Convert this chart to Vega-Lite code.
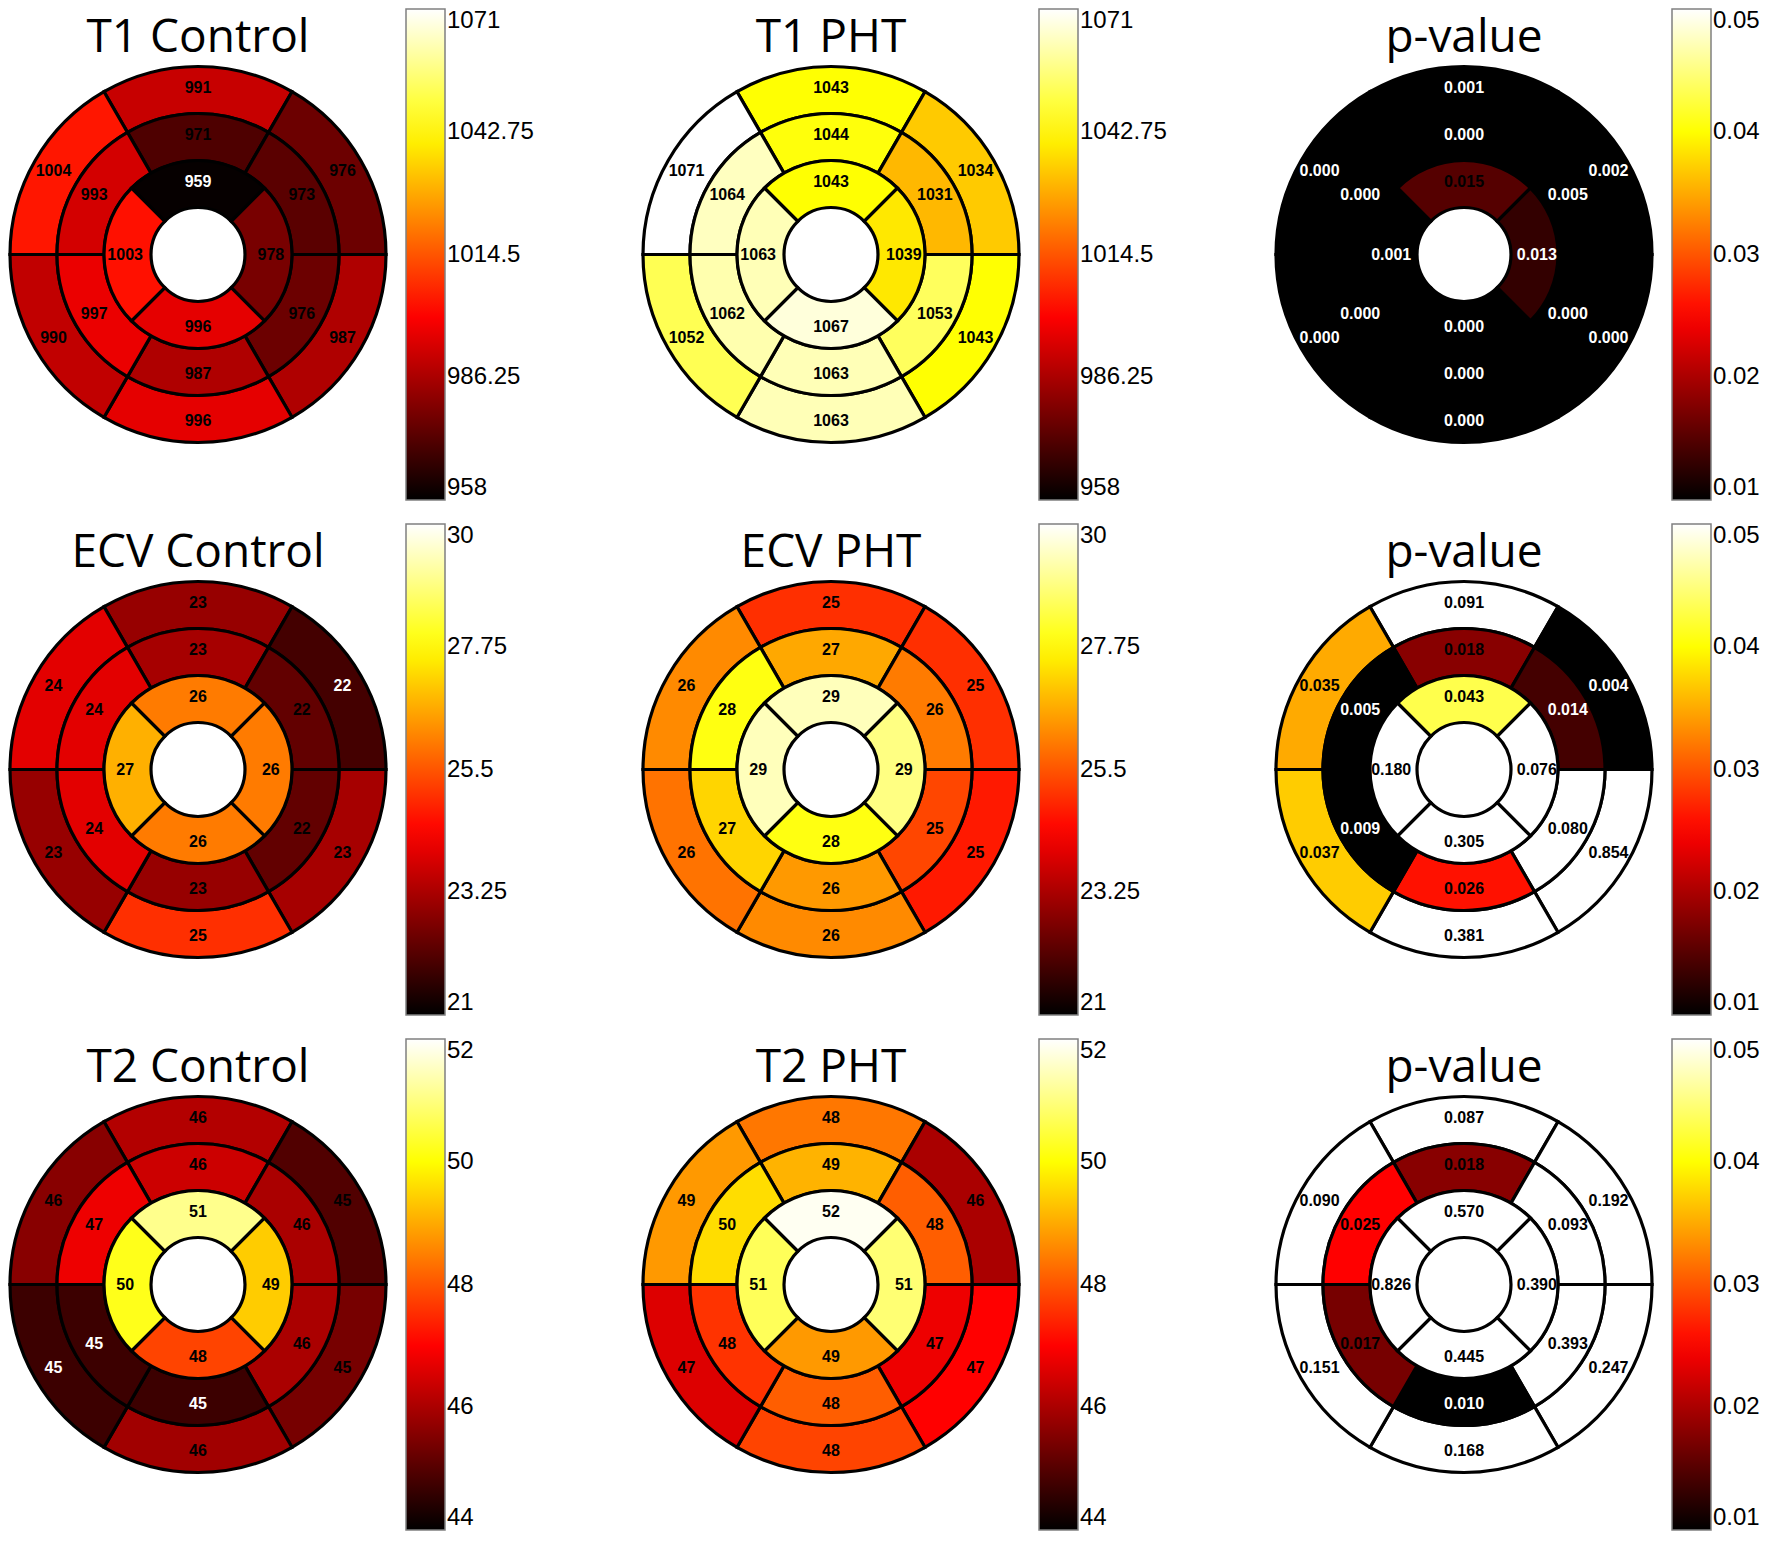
{
  "$schema": "https://vega.github.io/schema/vega-lite/v6.json",
  "padding": {"left": 3, "top": 9, "right": 0, "bottom": 0},
  "background": "white",
  "columns": 3,
  "bounds": "flush",
  "spacing": {"row": 24, "column": 243},
  "data": {"values": [
    {"p": "T1 Control", "ring": "outer", "seg": 0, "v": 991},
    {"p": "T1 Control", "ring": "outer", "seg": 1, "v": 976},
    {"p": "T1 Control", "ring": "outer", "seg": 2, "v": 987},
    {"p": "T1 Control", "ring": "outer", "seg": 3, "v": 996},
    {"p": "T1 Control", "ring": "outer", "seg": 4, "v": 990},
    {"p": "T1 Control", "ring": "outer", "seg": 5, "v": 1004},
    {"p": "T1 Control", "ring": "mid", "seg": 0, "v": 971},
    {"p": "T1 Control", "ring": "mid", "seg": 1, "v": 973},
    {"p": "T1 Control", "ring": "mid", "seg": 2, "v": 976},
    {"p": "T1 Control", "ring": "mid", "seg": 3, "v": 987},
    {"p": "T1 Control", "ring": "mid", "seg": 4, "v": 997},
    {"p": "T1 Control", "ring": "mid", "seg": 5, "v": 993},
    {"p": "T1 Control", "ring": "inner", "seg": 0, "v": 959},
    {"p": "T1 Control", "ring": "inner", "seg": 1, "v": 978},
    {"p": "T1 Control", "ring": "inner", "seg": 2, "v": 996},
    {"p": "T1 Control", "ring": "inner", "seg": 3, "v": 1003},

    {"p": "T1 PHT", "ring": "outer", "seg": 0, "v": 1043},
    {"p": "T1 PHT", "ring": "outer", "seg": 1, "v": 1034},
    {"p": "T1 PHT", "ring": "outer", "seg": 2, "v": 1043},
    {"p": "T1 PHT", "ring": "outer", "seg": 3, "v": 1063},
    {"p": "T1 PHT", "ring": "outer", "seg": 4, "v": 1052},
    {"p": "T1 PHT", "ring": "outer", "seg": 5, "v": 1071},
    {"p": "T1 PHT", "ring": "mid", "seg": 0, "v": 1044},
    {"p": "T1 PHT", "ring": "mid", "seg": 1, "v": 1031},
    {"p": "T1 PHT", "ring": "mid", "seg": 2, "v": 1053},
    {"p": "T1 PHT", "ring": "mid", "seg": 3, "v": 1063},
    {"p": "T1 PHT", "ring": "mid", "seg": 4, "v": 1062},
    {"p": "T1 PHT", "ring": "mid", "seg": 5, "v": 1064},
    {"p": "T1 PHT", "ring": "inner", "seg": 0, "v": 1043},
    {"p": "T1 PHT", "ring": "inner", "seg": 1, "v": 1039},
    {"p": "T1 PHT", "ring": "inner", "seg": 2, "v": 1067},
    {"p": "T1 PHT", "ring": "inner", "seg": 3, "v": 1063},

    {"p": "T1 p", "ring": "outer", "seg": 0, "v": 0.001},
    {"p": "T1 p", "ring": "outer", "seg": 1, "v": 0.002},
    {"p": "T1 p", "ring": "outer", "seg": 2, "v": 0.0001},
    {"p": "T1 p", "ring": "outer", "seg": 3, "v": 0.0001},
    {"p": "T1 p", "ring": "outer", "seg": 4, "v": 0.0001},
    {"p": "T1 p", "ring": "outer", "seg": 5, "v": 0.0001},
    {"p": "T1 p", "ring": "mid", "seg": 0, "v": 0.0001},
    {"p": "T1 p", "ring": "mid", "seg": 1, "v": 0.005},
    {"p": "T1 p", "ring": "mid", "seg": 2, "v": 0.0001},
    {"p": "T1 p", "ring": "mid", "seg": 3, "v": 0.0001},
    {"p": "T1 p", "ring": "mid", "seg": 4, "v": 0.0001},
    {"p": "T1 p", "ring": "mid", "seg": 5, "v": 0.0001},
    {"p": "T1 p", "ring": "inner", "seg": 0, "v": 0.015},
    {"p": "T1 p", "ring": "inner", "seg": 1, "v": 0.013},
    {"p": "T1 p", "ring": "inner", "seg": 2, "v": 0.0001},
    {"p": "T1 p", "ring": "inner", "seg": 3, "v": 0.001},

    {"p": "ECV Control", "ring": "outer", "seg": 0, "v": 23},
    {"p": "ECV Control", "ring": "outer", "seg": 1, "v": 21.9},
    {"p": "ECV Control", "ring": "outer", "seg": 2, "v": 23.2},
    {"p": "ECV Control", "ring": "outer", "seg": 3, "v": 25},
    {"p": "ECV Control", "ring": "outer", "seg": 4, "v": 23},
    {"p": "ECV Control", "ring": "outer", "seg": 5, "v": 24},
    {"p": "ECV Control", "ring": "mid", "seg": 0, "v": 23.2},
    {"p": "ECV Control", "ring": "mid", "seg": 1, "v": 22.3},
    {"p": "ECV Control", "ring": "mid", "seg": 2, "v": 22.3},
    {"p": "ECV Control", "ring": "mid", "seg": 3, "v": 23},
    {"p": "ECV Control", "ring": "mid", "seg": 4, "v": 24},
    {"p": "ECV Control", "ring": "mid", "seg": 5, "v": 24},
    {"p": "ECV Control", "ring": "inner", "seg": 0, "v": 26},
    {"p": "ECV Control", "ring": "inner", "seg": 1, "v": 26},
    {"p": "ECV Control", "ring": "inner", "seg": 2, "v": 26},
    {"p": "ECV Control", "ring": "inner", "seg": 3, "v": 26.7},

    {"p": "ECV PHT", "ring": "outer", "seg": 0, "v": 25},
    {"p": "ECV PHT", "ring": "outer", "seg": 1, "v": 25},
    {"p": "ECV PHT", "ring": "outer", "seg": 2, "v": 24.7},
    {"p": "ECV PHT", "ring": "outer", "seg": 3, "v": 26.2},
    {"p": "ECV PHT", "ring": "outer", "seg": 4, "v": 25.9},
    {"p": "ECV PHT", "ring": "outer", "seg": 5, "v": 26.2},
    {"p": "ECV PHT", "ring": "mid", "seg": 0, "v": 26.6},
    {"p": "ECV PHT", "ring": "mid", "seg": 1, "v": 26.0},
    {"p": "ECV PHT", "ring": "mid", "seg": 2, "v": 25.3},
    {"p": "ECV PHT", "ring": "mid", "seg": 3, "v": 26.4},
    {"p": "ECV PHT", "ring": "mid", "seg": 4, "v": 27.2},
    {"p": "ECV PHT", "ring": "mid", "seg": 5, "v": 27.9},
    {"p": "ECV PHT", "ring": "inner", "seg": 0, "v": 29.4},
    {"p": "ECV PHT", "ring": "inner", "seg": 1, "v": 28.9},
    {"p": "ECV PHT", "ring": "inner", "seg": 2, "v": 27.9},
    {"p": "ECV PHT", "ring": "inner", "seg": 3, "v": 29.4},

    {"p": "ECV p", "ring": "outer", "seg": 0, "v": 0.091},
    {"p": "ECV p", "ring": "outer", "seg": 1, "v": 0.004},
    {"p": "ECV p", "ring": "outer", "seg": 2, "v": 0.854},
    {"p": "ECV p", "ring": "outer", "seg": 3, "v": 0.381},
    {"p": "ECV p", "ring": "outer", "seg": 4, "v": 0.037},
    {"p": "ECV p", "ring": "outer", "seg": 5, "v": 0.035},
    {"p": "ECV p", "ring": "mid", "seg": 0, "v": 0.018},
    {"p": "ECV p", "ring": "mid", "seg": 1, "v": 0.014},
    {"p": "ECV p", "ring": "mid", "seg": 2, "v": 0.080},
    {"p": "ECV p", "ring": "mid", "seg": 3, "v": 0.026},
    {"p": "ECV p", "ring": "mid", "seg": 4, "v": 0.009},
    {"p": "ECV p", "ring": "mid", "seg": 5, "v": 0.005},
    {"p": "ECV p", "ring": "inner", "seg": 0, "v": 0.043},
    {"p": "ECV p", "ring": "inner", "seg": 1, "v": 0.076},
    {"p": "ECV p", "ring": "inner", "seg": 2, "v": 0.305},
    {"p": "ECV p", "ring": "inner", "seg": 3, "v": 0.180},

    {"p": "T2 Control", "ring": "outer", "seg": 0, "v": 46.1},
    {"p": "T2 Control", "ring": "outer", "seg": 1, "v": 44.95},
    {"p": "T2 Control", "ring": "outer", "seg": 2, "v": 45.4},
    {"p": "T2 Control", "ring": "outer", "seg": 3, "v": 45.9},
    {"p": "T2 Control", "ring": "outer", "seg": 4, "v": 44.7},
    {"p": "T2 Control", "ring": "outer", "seg": 5, "v": 45.6},
    {"p": "T2 Control", "ring": "mid", "seg": 0, "v": 46.4},
    {"p": "T2 Control", "ring": "mid", "seg": 1, "v": 46.0},
    {"p": "T2 Control", "ring": "mid", "seg": 2, "v": 46.0},
    {"p": "T2 Control", "ring": "mid", "seg": 3, "v": 44.7},
    {"p": "T2 Control", "ring": "mid", "seg": 4, "v": 44.7},
    {"p": "T2 Control", "ring": "mid", "seg": 5, "v": 46.8},
    {"p": "T2 Control", "ring": "inner", "seg": 0, "v": 51.1},
    {"p": "T2 Control", "ring": "inner", "seg": 1, "v": 49.4},
    {"p": "T2 Control", "ring": "inner", "seg": 2, "v": 47.8},
    {"p": "T2 Control", "ring": "inner", "seg": 3, "v": 50.2},

    {"p": "T2 PHT", "ring": "outer", "seg": 0, "v": 48.4},
    {"p": "T2 PHT", "ring": "outer", "seg": 1, "v": 46.0},
    {"p": "T2 PHT", "ring": "outer", "seg": 2, "v": 47.0},
    {"p": "T2 PHT", "ring": "outer", "seg": 3, "v": 47.8},
    {"p": "T2 PHT", "ring": "outer", "seg": 4, "v": 46.6},
    {"p": "T2 PHT", "ring": "outer", "seg": 5, "v": 48.8},
    {"p": "T2 PHT", "ring": "mid", "seg": 0, "v": 49.1},
    {"p": "T2 PHT", "ring": "mid", "seg": 1, "v": 48.1},
    {"p": "T2 PHT", "ring": "mid", "seg": 2, "v": 46.8},
    {"p": "T2 PHT", "ring": "mid", "seg": 3, "v": 48.1},
    {"p": "T2 PHT", "ring": "mid", "seg": 4, "v": 47.6},
    {"p": "T2 PHT", "ring": "mid", "seg": 5, "v": 49.6},
    {"p": "T2 PHT", "ring": "inner", "seg": 0, "v": 51.9},
    {"p": "T2 PHT", "ring": "inner", "seg": 1, "v": 50.9},
    {"p": "T2 PHT", "ring": "inner", "seg": 2, "v": 48.8},
    {"p": "T2 PHT", "ring": "inner", "seg": 3, "v": 50.7},

    {"p": "T2 p", "ring": "outer", "seg": 0, "v": 0.087},
    {"p": "T2 p", "ring": "outer", "seg": 1, "v": 0.192},
    {"p": "T2 p", "ring": "outer", "seg": 2, "v": 0.247},
    {"p": "T2 p", "ring": "outer", "seg": 3, "v": 0.168},
    {"p": "T2 p", "ring": "outer", "seg": 4, "v": 0.151},
    {"p": "T2 p", "ring": "outer", "seg": 5, "v": 0.090},
    {"p": "T2 p", "ring": "mid", "seg": 0, "v": 0.018},
    {"p": "T2 p", "ring": "mid", "seg": 1, "v": 0.093},
    {"p": "T2 p", "ring": "mid", "seg": 2, "v": 0.393},
    {"p": "T2 p", "ring": "mid", "seg": 3, "v": 0.010},
    {"p": "T2 p", "ring": "mid", "seg": 4, "v": 0.017},
    {"p": "T2 p", "ring": "mid", "seg": 5, "v": 0.025},
    {"p": "T2 p", "ring": "inner", "seg": 0, "v": 0.570},
    {"p": "T2 p", "ring": "inner", "seg": 1, "v": 0.390},
    {"p": "T2 p", "ring": "inner", "seg": 2, "v": 0.445},
    {"p": "T2 p", "ring": "inner", "seg": 3, "v": 0.826}
  ]},
  "transform": [
    {"calculate": "datum.ring == 'inner' ? -45 + 90 * datum.seg : -30 + 60 * datum.seg", "as": "a0"},
    {"calculate": "datum.a0 + (datum.ring == 'inner' ? 90 : 60)", "as": "a1"},
    {"calculate": "(datum.a0 + datum.a1) / 2", "as": "am"},
    {"calculate": "datum.ring == 'inner' ? 1 : datum.ring == 'mid' ? 2 : 3", "as": "r0"},
    {"calculate": "datum.r0 + 1", "as": "r1"},
    {"calculate": "datum.r0 + 0.55", "as": "rm"}
  ],
  "resolve": {"scale": {"color": "independent"}, "legend": {"color": "independent"}},
  "concat": [
    {
      "width": 390, "height": 491,
      "title": {"text": "T1 Control"},
      "transform": [{"filter": "datum.p == 'T1 Control'"}],
      "layer": [
        {"mark": {"type": "arc", "stroke": "black", "strokeWidth": 3.2},
         "encoding": {
           "theta": {"field": "a0", "type": "quantitative", "stack": null, "scale": {"type": "linear", "domain": [0, 360], "range": [0, 6.283185307179586]}},
           "theta2": {"field": "a1"},
           "radius": {"field": "r1", "type": "quantitative", "stack": null, "scale": {"type": "linear", "domain": [0, 4], "range": [0, 188]}},
           "radius2": {"field": "r0"},
           "color": {"field": "v", "type": "quantitative", "scale": {"domain": [958, 1000.375, 1042.75, 1071], "range": ["#000000", "#ff0000", "#ffff00", "#ffffff"], "clamp": true, "interpolate": "rgb"},
                     "legend": {"title": null, "values": [958, 986.25, 1014.5, 1042.75, 1071], "labelExpr": "'' + datum.value"}}
         }},
        {"mark": {"type": "text", "font": "Liberation Sans", "fontSize": 16, "fontWeight": "bold", "align": "center", "baseline": "middle"},
         "encoding": {
           "theta": {"field": "am", "type": "quantitative", "stack": null},
           "radius": {"field": "rm", "type": "quantitative", "stack": null},
           "text": {"field": "v", "type": "quantitative", "format": ".0f"},
           "color": {"condition": {"test": "datum.v < 965", "value": "white"}, "value": "black"}
         }}
      ]
    },
    {
      "width": 390, "height": 491,
      "title": {"text": "T1 PHT"},
      "transform": [{"filter": "datum.p == 'T1 PHT'"}],
      "layer": [
        {"mark": {"type": "arc", "stroke": "black", "strokeWidth": 3.2},
         "encoding": {
           "theta": {"field": "a0", "type": "quantitative", "stack": null, "scale": {"type": "linear", "domain": [0, 360], "range": [0, 6.283185307179586]}},
           "theta2": {"field": "a1"},
           "radius": {"field": "r1", "type": "quantitative", "stack": null, "scale": {"type": "linear", "domain": [0, 4], "range": [0, 188]}},
           "radius2": {"field": "r0"},
           "color": {"field": "v", "type": "quantitative", "scale": {"domain": [958, 1000.375, 1042.75, 1071], "range": ["#000000", "#ff0000", "#ffff00", "#ffffff"], "clamp": true, "interpolate": "rgb"},
                     "legend": {"title": null, "values": [958, 986.25, 1014.5, 1042.75, 1071], "labelExpr": "'' + datum.value"}}
         }},
        {"mark": {"type": "text", "font": "Liberation Sans", "fontSize": 16, "fontWeight": "bold", "align": "center", "baseline": "middle"},
         "encoding": {
           "theta": {"field": "am", "type": "quantitative", "stack": null},
           "radius": {"field": "rm", "type": "quantitative", "stack": null},
           "text": {"field": "v", "type": "quantitative", "format": ".0f"},
           "color": {"condition": {"test": "datum.v < 965", "value": "white"}, "value": "black"}
         }}
      ]
    },
    {
      "width": 390, "height": 491,
      "title": {"text": "p-value"},
      "transform": [{"filter": "datum.p == 'T1 p'"}],
      "layer": [
        {"mark": {"type": "arc", "stroke": "black", "strokeWidth": 3.2},
         "encoding": {
           "theta": {"field": "a0", "type": "quantitative", "stack": null, "scale": {"type": "linear", "domain": [0, 360], "range": [0, 6.283185307179586]}},
           "theta2": {"field": "a1"},
           "radius": {"field": "r1", "type": "quantitative", "stack": null, "scale": {"type": "linear", "domain": [0, 4], "range": [0, 188]}},
           "radius2": {"field": "r0"},
           "color": {"field": "v", "type": "quantitative", "scale": {"domain": [0.01, 0.025, 0.04, 0.05], "range": ["#000000", "#ff0000", "#ffff00", "#ffffff"], "clamp": true, "interpolate": "rgb"},
                     "legend": {"title": null, "values": [0.01, 0.02, 0.03, 0.04, 0.05], "labelExpr": "'' + datum.value"}}
         }},
        {"mark": {"type": "text", "font": "Liberation Sans", "fontSize": 16, "fontWeight": "bold", "align": "center", "baseline": "middle"},
         "encoding": {
           "theta": {"field": "am", "type": "quantitative", "stack": null},
           "radius": {"field": "rm", "type": "quantitative", "stack": null},
           "text": {"field": "v", "type": "quantitative", "format": ".3f"},
           "color": {"condition": {"test": "datum.v < 0.0145", "value": "white"}, "value": "black"}
         }}
      ]
    },
    {
      "width": 390, "height": 491,
      "title": {"text": "ECV Control"},
      "transform": [{"filter": "datum.p == 'ECV Control'"}],
      "layer": [
        {"mark": {"type": "arc", "stroke": "black", "strokeWidth": 3.2},
         "encoding": {
           "theta": {"field": "a0", "type": "quantitative", "stack": null, "scale": {"type": "linear", "domain": [0, 360], "range": [0, 6.283185307179586]}},
           "theta2": {"field": "a1"},
           "radius": {"field": "r1", "type": "quantitative", "stack": null, "scale": {"type": "linear", "domain": [0, 4], "range": [0, 188]}},
           "radius2": {"field": "r0"},
           "color": {"field": "v", "type": "quantitative", "scale": {"domain": [21, 24.375, 27.75, 30], "range": ["#000000", "#ff0000", "#ffff00", "#ffffff"], "clamp": true, "interpolate": "rgb"},
                     "legend": {"title": null, "values": [21, 23.25, 25.5, 27.75, 30], "labelExpr": "'' + datum.value"}}
         }},
        {"mark": {"type": "text", "font": "Liberation Sans", "fontSize": 16, "fontWeight": "bold", "align": "center", "baseline": "middle"},
         "encoding": {
           "theta": {"field": "am", "type": "quantitative", "stack": null},
           "radius": {"field": "rm", "type": "quantitative", "stack": null},
           "text": {"field": "v", "type": "quantitative", "format": ".0f"},
           "color": {"condition": {"test": "datum.v < 22", "value": "white"}, "value": "black"}
         }}
      ]
    },
    {
      "width": 390, "height": 491,
      "title": {"text": "ECV PHT"},
      "transform": [{"filter": "datum.p == 'ECV PHT'"}],
      "layer": [
        {"mark": {"type": "arc", "stroke": "black", "strokeWidth": 3.2},
         "encoding": {
           "theta": {"field": "a0", "type": "quantitative", "stack": null, "scale": {"type": "linear", "domain": [0, 360], "range": [0, 6.283185307179586]}},
           "theta2": {"field": "a1"},
           "radius": {"field": "r1", "type": "quantitative", "stack": null, "scale": {"type": "linear", "domain": [0, 4], "range": [0, 188]}},
           "radius2": {"field": "r0"},
           "color": {"field": "v", "type": "quantitative", "scale": {"domain": [21, 24.375, 27.75, 30], "range": ["#000000", "#ff0000", "#ffff00", "#ffffff"], "clamp": true, "interpolate": "rgb"},
                     "legend": {"title": null, "values": [21, 23.25, 25.5, 27.75, 30], "labelExpr": "'' + datum.value"}}
         }},
        {"mark": {"type": "text", "font": "Liberation Sans", "fontSize": 16, "fontWeight": "bold", "align": "center", "baseline": "middle"},
         "encoding": {
           "theta": {"field": "am", "type": "quantitative", "stack": null},
           "radius": {"field": "rm", "type": "quantitative", "stack": null},
           "text": {"field": "v", "type": "quantitative", "format": ".0f"},
           "color": {"condition": {"test": "datum.v < 22", "value": "white"}, "value": "black"}
         }}
      ]
    },
    {
      "width": 390, "height": 491,
      "title": {"text": "p-value"},
      "transform": [{"filter": "datum.p == 'ECV p'"}],
      "layer": [
        {"mark": {"type": "arc", "stroke": "black", "strokeWidth": 3.2},
         "encoding": {
           "theta": {"field": "a0", "type": "quantitative", "stack": null, "scale": {"type": "linear", "domain": [0, 360], "range": [0, 6.283185307179586]}},
           "theta2": {"field": "a1"},
           "radius": {"field": "r1", "type": "quantitative", "stack": null, "scale": {"type": "linear", "domain": [0, 4], "range": [0, 188]}},
           "radius2": {"field": "r0"},
           "color": {"field": "v", "type": "quantitative", "scale": {"domain": [0.01, 0.025, 0.04, 0.05], "range": ["#000000", "#ff0000", "#ffff00", "#ffffff"], "clamp": true, "interpolate": "rgb"},
                     "legend": {"title": null, "values": [0.01, 0.02, 0.03, 0.04, 0.05], "labelExpr": "'' + datum.value"}}
         }},
        {"mark": {"type": "text", "font": "Liberation Sans", "fontSize": 16, "fontWeight": "bold", "align": "center", "baseline": "middle"},
         "encoding": {
           "theta": {"field": "am", "type": "quantitative", "stack": null},
           "radius": {"field": "rm", "type": "quantitative", "stack": null},
           "text": {"field": "v", "type": "quantitative", "format": ".3f"},
           "color": {"condition": {"test": "datum.v < 0.0145", "value": "white"}, "value": "black"}
         }}
      ]
    },
    {
      "width": 390, "height": 491,
      "title": {"text": "T2 Control"},
      "transform": [{"filter": "datum.p == 'T2 Control'"}],
      "layer": [
        {"mark": {"type": "arc", "stroke": "black", "strokeWidth": 3.2},
         "encoding": {
           "theta": {"field": "a0", "type": "quantitative", "stack": null, "scale": {"type": "linear", "domain": [0, 360], "range": [0, 6.283185307179586]}},
           "theta2": {"field": "a1"},
           "radius": {"field": "r1", "type": "quantitative", "stack": null, "scale": {"type": "linear", "domain": [0, 4], "range": [0, 188]}},
           "radius2": {"field": "r0"},
           "color": {"field": "v", "type": "quantitative", "scale": {"domain": [44, 47, 50, 52], "range": ["#000000", "#ff0000", "#ffff00", "#ffffff"], "clamp": true, "interpolate": "rgb"},
                     "legend": {"title": null, "values": [44, 46, 48, 50, 52], "labelExpr": "'' + datum.value"}}
         }},
        {"mark": {"type": "text", "font": "Liberation Sans", "fontSize": 16, "fontWeight": "bold", "align": "center", "baseline": "middle"},
         "encoding": {
           "theta": {"field": "am", "type": "quantitative", "stack": null},
           "radius": {"field": "rm", "type": "quantitative", "stack": null},
           "text": {"field": "v", "type": "quantitative", "format": ".0f"},
           "color": {"condition": {"test": "datum.v < 44.8", "value": "white"}, "value": "black"}
         }}
      ]
    },
    {
      "width": 390, "height": 491,
      "title": {"text": "T2 PHT"},
      "transform": [{"filter": "datum.p == 'T2 PHT'"}],
      "layer": [
        {"mark": {"type": "arc", "stroke": "black", "strokeWidth": 3.2},
         "encoding": {
           "theta": {"field": "a0", "type": "quantitative", "stack": null, "scale": {"type": "linear", "domain": [0, 360], "range": [0, 6.283185307179586]}},
           "theta2": {"field": "a1"},
           "radius": {"field": "r1", "type": "quantitative", "stack": null, "scale": {"type": "linear", "domain": [0, 4], "range": [0, 188]}},
           "radius2": {"field": "r0"},
           "color": {"field": "v", "type": "quantitative", "scale": {"domain": [44, 47, 50, 52], "range": ["#000000", "#ff0000", "#ffff00", "#ffffff"], "clamp": true, "interpolate": "rgb"},
                     "legend": {"title": null, "values": [44, 46, 48, 50, 52], "labelExpr": "'' + datum.value"}}
         }},
        {"mark": {"type": "text", "font": "Liberation Sans", "fontSize": 16, "fontWeight": "bold", "align": "center", "baseline": "middle"},
         "encoding": {
           "theta": {"field": "am", "type": "quantitative", "stack": null},
           "radius": {"field": "rm", "type": "quantitative", "stack": null},
           "text": {"field": "v", "type": "quantitative", "format": ".0f"},
           "color": {"condition": {"test": "datum.v < 44.8", "value": "white"}, "value": "black"}
         }}
      ]
    },
    {
      "width": 390, "height": 491,
      "title": {"text": "p-value"},
      "transform": [{"filter": "datum.p == 'T2 p'"}],
      "layer": [
        {"mark": {"type": "arc", "stroke": "black", "strokeWidth": 3.2},
         "encoding": {
           "theta": {"field": "a0", "type": "quantitative", "stack": null, "scale": {"type": "linear", "domain": [0, 360], "range": [0, 6.283185307179586]}},
           "theta2": {"field": "a1"},
           "radius": {"field": "r1", "type": "quantitative", "stack": null, "scale": {"type": "linear", "domain": [0, 4], "range": [0, 188]}},
           "radius2": {"field": "r0"},
           "color": {"field": "v", "type": "quantitative", "scale": {"domain": [0.01, 0.025, 0.04, 0.05], "range": ["#000000", "#ff0000", "#ffff00", "#ffffff"], "clamp": true, "interpolate": "rgb"},
                     "legend": {"title": null, "values": [0.01, 0.02, 0.03, 0.04, 0.05], "labelExpr": "'' + datum.value"}}
         }},
        {"mark": {"type": "text", "font": "Liberation Sans", "fontSize": 16, "fontWeight": "bold", "align": "center", "baseline": "middle"},
         "encoding": {
           "theta": {"field": "am", "type": "quantitative", "stack": null},
           "radius": {"field": "rm", "type": "quantitative", "stack": null},
           "text": {"field": "v", "type": "quantitative", "format": ".3f"},
           "color": {"condition": {"test": "datum.v < 0.0145", "value": "white"}, "value": "black"}
         }}
      ]
    }
  ],
  "config": {
    "view": {"stroke": null},
    "title": {"font": "Open Sans", "fontSize": 46, "fontWeight": "normal", "color": "black", "baseline": "alphabetic", "offset": -53, "anchor": "middle"},
    "legend": {
      "gradientLength": 491,
      "gradientThickness": 39,
      "gradientStrokeColor": "#808080",
      "gradientStrokeWidth": 1.5,
      "labelFont": "Liberation Sans",
      "labelFontSize": 24,
      "labelColor": "black",
      "labelOffset": 11,
      "labelBaseline": "middle",
      "labelOverlap": false,
      "offset": 13,
      "padding": 0
    }
  }
}
